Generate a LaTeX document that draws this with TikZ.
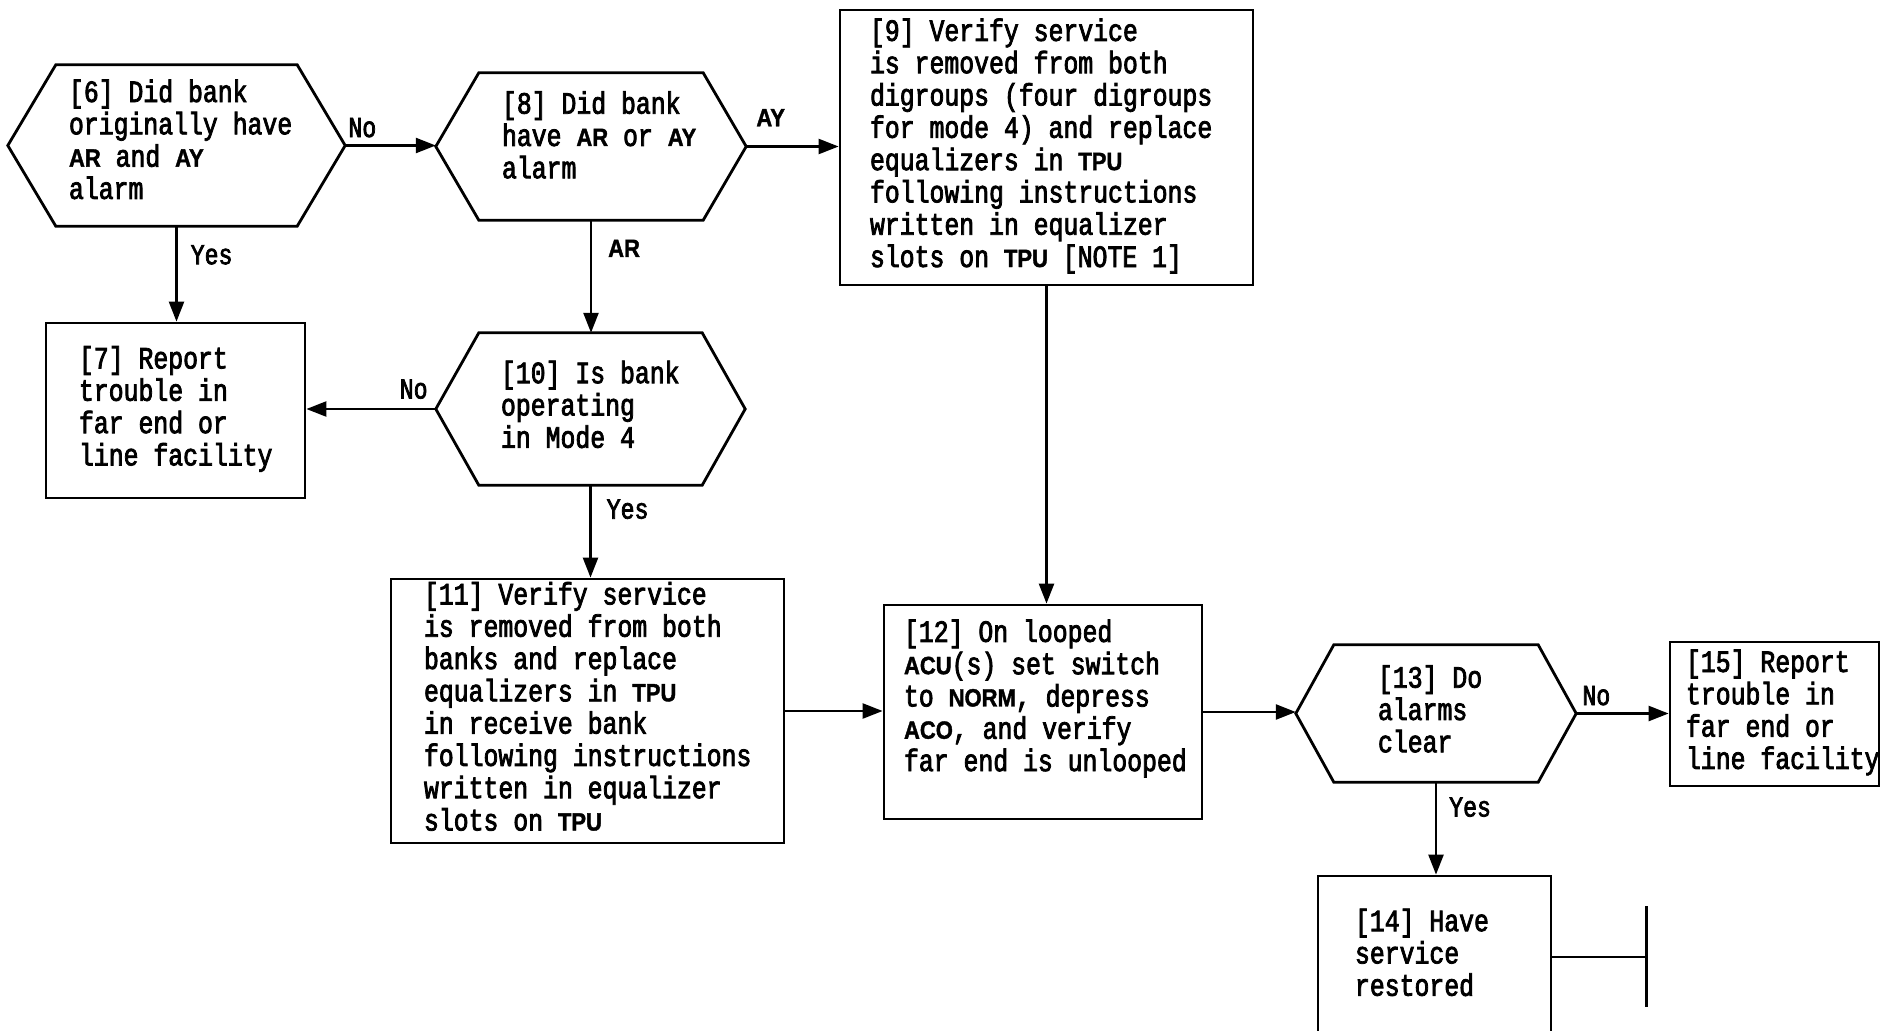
\documentclass[tikz,border=0pt]{standalone}
\usepackage{fontspec}
\usetikzlibrary{arrows.meta}
\newfontfamily\typefam{Liberation Mono}[FakeStretch=0.8,FakeBold=2.5]
\newfontfamily\keyfam{Liberation Sans}[UprightFont={* Bold}, FakeStretch=0.88, FakeBold=1.5]
% bold keywords (alarm names, unit names)
\newcommand\kw[1]{{\fontsize{25}{25}\keyfam #1}}
% left-aligned block of lines, set in a box of fixed width
\newcommand\tb[2]{\hbox to #1{\begin{tabular}{@{}l@{}}#2\end{tabular}\hss}}
% hexagonal decision outline drawn on the anchors of a rectangular node
\newcommand\hexline[2]{\draw[outline] (#1.west) -- ([xshift=#2]#1.north west)
  -- ([xshift=-#2]#1.north east) -- (#1.east) -- ([xshift=-#2]#1.south east)
  -- ([xshift=#2]#1.south west) -- cycle;}
\begin{document}
\begin{tikzpicture}[x=1pt,y=-1pt,
  every node/.style={font={\fontsize{31}{32.3}\typefam}, inner sep=0pt},
  outline/.style={line width=2.8pt, line join=miter},
  box/.style={draw, line width=2.8pt},
  hexbox/.style={},
  conn/.style={line width=2.4pt},
  arr/.style={conn, -{Triangle[length=20pt,width=15pt]}},
  lbl/.style={font={\fontsize{29}{29}\typefam}},
  klbl/.style={font={\fontsize{25}{25}\keyfam}}]
\fill[white] (0,0) rectangle (1888,1031);
\useasboundingbox (0,0) rectangle (1888,1031);

% decisions
\node[hexbox, minimum width=337pt, minimum height=161pt] (h6) at (176.5,145.5)
  {\tb{215pt}{[6] Did bank\\originally have\\\kw{AR} and \kw{AY}\\alarm\\[3pt]}};
\hexline{h6}{48pt}
\node[hexbox, minimum width=310pt, minimum height=147pt] (h8) at (591,146.5)
  {\tb{178pt}{[8] Did bank\\have \kw{AR} or \kw{AY}\\alarm\\[14pt]}};
\hexline{h8}{43pt}
\node[hexbox, minimum width=309pt, minimum height=152pt] (h10) at (590.5,409)
  {\tb{179pt}{[10] Is bank\\operating\\in Mode 4}};
\hexline{h10}{43pt}
\node[hexbox, minimum width=280pt, minimum height=137pt] (h13) at (1436,713.5)
  {\tb{116pt}{[13] Do\\alarms\\clear}};
\hexline{h13}{38pt}

% actions
\node[box, minimum width=259pt, minimum height=175pt] (b7) at (175.5,410.5)
  {\tb{193pt}{[7] Report\\trouble in\\far end or\\line facility}};
\node[box, minimum width=413pt, minimum height=275pt] (b9) at (1046.5,147.5)
  {\tb{353pt}{[9] Verify service\\is removed from both\\digroups (four digroups\\for mode 4) and replace\\equalizers in \kw{TPU}\\following instructions\\written in equalizer\\slots on \kw{TPU} [NOTE 1]}};
\node[box, minimum width=393pt, minimum height=264pt] (b11) at (587.5,711)
  {\tb{327pt}{[11] Verify service\\is removed from both\\banks and replace\\equalizers in \kw{TPU}\\in receive bank\\following instructions\\written in equalizer\\slots on \kw{TPU}}};
\node[box, minimum width=318pt, minimum height=214pt] (b12) at (1043,712)
  {\tb{278pt}{[12] On looped\\\kw{ACU}(s) set switch\\to \kw{NORM}, depress\\\kw{ACO}, and verify\\far end is unlooped\\[24pt]}};
\node[box, minimum width=209pt, minimum height=144pt] (b15) at (1774.5,714)
  {\tb{177pt}{[15] Report\\trouble in\\far end or\\line facility}};
\node[box, minimum width=233pt, minimum height=162pt] (b14) at (1434.5,957)
  {\tb{159pt}{[14] Have\\service\\restored}};

% flow
\draw[arr] (h6.east) -- node[lbl, pos=0, anchor=south west, xshift=2pt, yshift=7pt] {No} (h6.east -| h8.west);
\draw[arr] (h6.south) -- node[lbl, pos=0.3, anchor=west, xshift=13pt] {Yes} (h6.south |- b7.north);
\draw[arr] (h8.east) -- node[klbl, pos=0, anchor=south west, xshift=9pt, yshift=19pt] {AY} (h8.east -| b9.west);
\draw[arr] (h8.south) -- node[klbl, pos=0.25, anchor=west, xshift=16pt] {AR} (h8.south |- h10.north);
\draw[arr] (h10.west) -- node[lbl, pos=0, anchor=south east, xshift=-7pt, yshift=9pt] {No} (h10.west -| b7.east);
\draw[arr] (h10.south) -- node[lbl, pos=0.26, anchor=west, xshift=15pt] {Yes} (h10.south |- b11.north);
\draw[arr] (b9.south) -- (b9.south |- b12.north);
\draw[arr] (b11.east) -- (b11.east -| b12.west);
\draw[arr] (b12.east) -- (b12.east -| h13.west);
\draw[arr] (h13.east) -- node[lbl, pos=0, anchor=south west, xshift=5pt, yshift=7pt] {No} (h13.east -| b15.west);
\draw[arr] (h13.south) -- node[lbl, pos=0.27, anchor=west, xshift=12pt] {Yes} (h13.south |- b14.north);

% end of procedure
\coordinate (term) at ([xshift=94pt]b14.east);
\draw[conn] (b14.east) -- (term);
\draw[line width=3.8pt] ([yshift=51pt]term) -- ([yshift=-50pt]term);
\end{tikzpicture}
\end{document}
